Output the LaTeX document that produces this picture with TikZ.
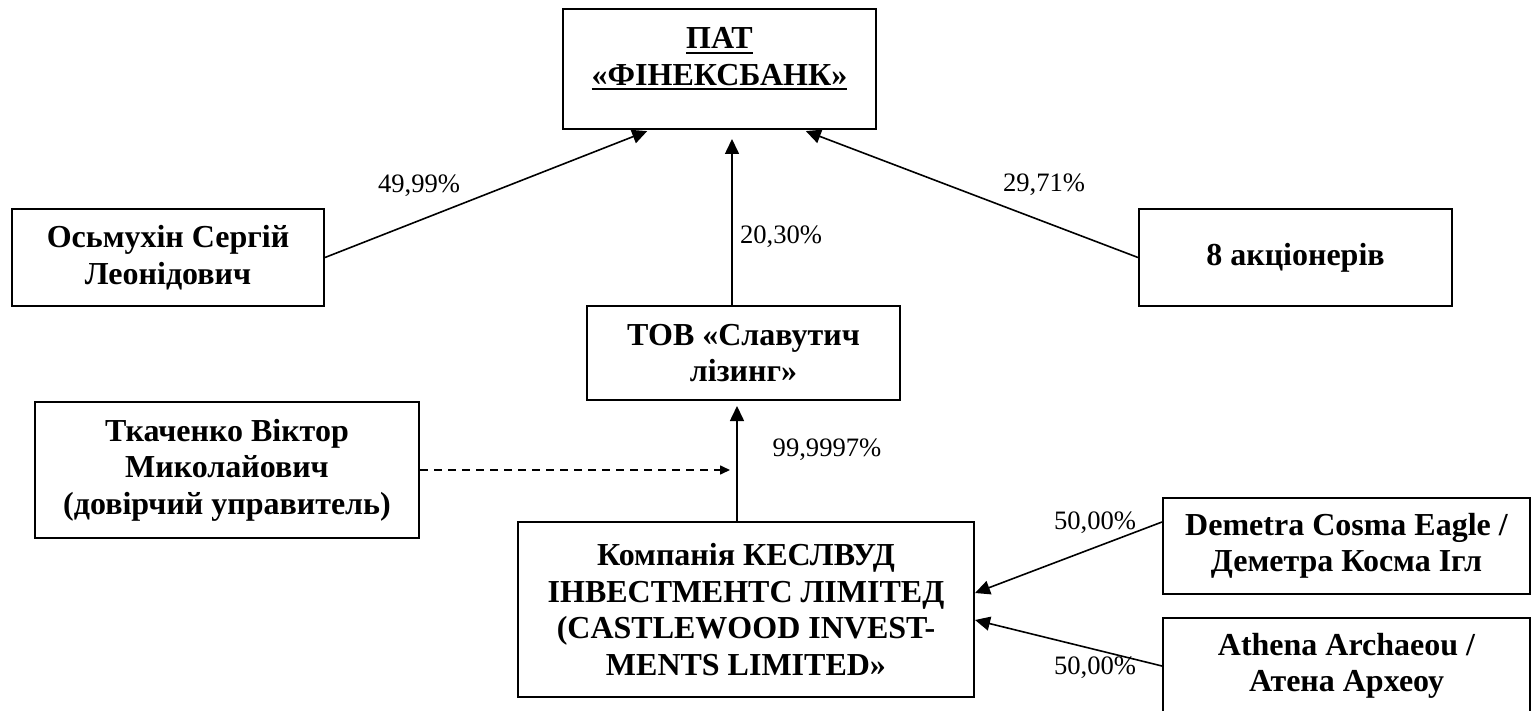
\documentclass[tikz,border=0pt]{standalone}
\usepackage{fontspec}
\setmainfont{Liberation Serif}
\usetikzlibrary{arrows.meta,calc}
\newcommand\myul[1]{\setbox0\hbox{#1}\rlap{\rule[-2.5pt]{\wd0}{1pt}}\box0}
\begin{document}
\begin{tikzpicture}[x=0.5pt,y=-0.5pt,
  box/.style={draw, line width=1pt, rectangle, inner sep=0pt, align=center, font=\bfseries\fontsize{16}{18.2}\selectfont},
  boxtext/.style={inner sep=0pt, align=center, font=\bfseries\fontsize{16}{18.4}\selectfont},
  conn/.style={line width=0.8pt, -{Triangle[length=7.5pt,width=7pt]}},
  dconn/.style={line width=0.8pt, -{Triangle[length=5pt,width=4.5pt]}, dash pattern=on 4pt off 3pt},
  pct/.style={font=\fontsize{13.3}{15}\selectfont, inner sep=0pt}]
\useasboundingbox (0,0) rectangle (1531,711);
% boxes
\node[box, minimum width=156.5pt, minimum height=60pt] (pat) at (719.5,69) {};
\node[boxtext] (pattext) at ([yshift=5pt]pat.center) {\myul{ПАТ}\\\myul{«ФІНЕКСБАНК»}};
\node[box, minimum width=156pt, minimum height=48.5pt] (osm) at (168,257.5) {Осьмухін Сергій\\Леонідович};
\node[box, minimum width=156.5pt, minimum height=48.5pt] (akc) at (1295.5,257.5) {8 акціонерів};
\node[box, minimum width=156.5pt, minimum height=47pt] (tov) at (743.5,353) {ТОВ «Славутич\\лізинг»};
\node[box, minimum width=192pt, minimum height=68pt] (tka) at (227,470) {Ткаченко Віктор\\Миколайович\\(довірчий управитель)};
\node[box, minimum width=228pt, minimum height=87.5pt] (kom) at (746,609.5) {Компанія КЕСЛВУД\\ІНВЕСТМЕНТС ЛІМІТЕД\\(CASTLEWOOD INVEST-\\MENTS LIMITED»};
\node[box, minimum width=183.5pt, minimum height=48pt] (dem) at (1346.5,546) {Demetra Cosma Eagle /\\Деметра Косма Ігл};
\node[box, minimum width=183.5pt, minimum height=48pt] (ath) at (1346.5,666) {Athena Archaeou /\\Атена Археоу};
% connectors
\draw[conn, shorten >=1.5pt] (osm.east) -- ([xshift=-34.75pt]pat.south);
\draw[conn, shorten >=1.5pt] (akc.west) -- ([xshift=41.75pt]pat.south);
\draw[conn, shorten >=4.5pt] ([xshift=-5.75pt]tov.north) -- ([xshift=-5.75pt]tov.north |- pat.south);
\draw[conn, shorten >=2.5pt] ([xshift=-4.5pt]kom.north) -- ([xshift=-4.5pt]kom.north |- tov.south);
\coordinate (dashend) at (730,470);
\draw[dconn] (tka.east) -- (dashend);
\draw[conn] ([yshift=12pt]dem.west) -- ([yshift=8.25pt]kom.east);
\draw[conn] (ath.west) -- ([yshift=-5.25pt]kom.east);
% labels
\node[pct] (l1) at (419,186) {49,99\%};
\node[pct] (l2) at (781,237) {20,30\%};
\node[pct] (l3) at (1044,185) {29,71\%};
\node[pct] (l4) at (827,450) {99,9997\%};
\node[pct] (l5) at (1095,523) {50,00\%};
\node[pct] (l6) at (1095,668) {50,00\%};
\end{tikzpicture}
\end{document}
